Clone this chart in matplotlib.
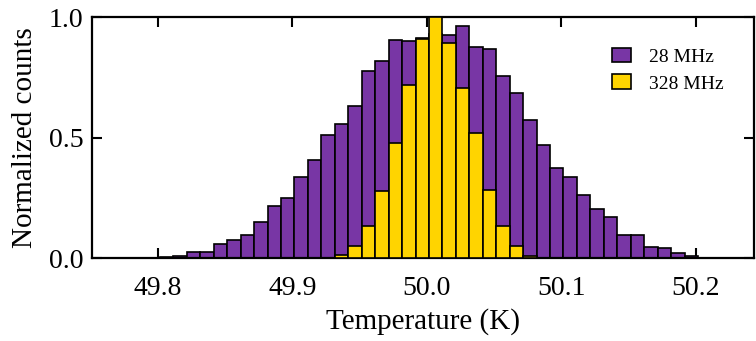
import matplotlib
matplotlib.use("Agg")
import matplotlib.pyplot as plt
import numpy as np

plt.rcParams['font.family'] = ['Liberation Serif', 'DejaVu Serif']

# histogram bins (left edges start at bin_left, width bin_width)
bin_left = 49.8015
bin_width = 0.01

counts_28 = [0.006, 0.008, 0.026, 0.026, 0.057, 0.075, 0.094, 0.149, 0.215, 0.248,
             0.336, 0.408, 0.511, 0.556, 0.629, 0.777, 0.816, 0.905, 0.902, 0.915,
             0.930, 0.925, 0.963, 0.877, 0.867, 0.756, 0.686, 0.574, 0.467, 0.372,
             0.337, 0.261, 0.203, 0.169, 0.094, 0.094, 0.045, 0.040, 0.022, 0.008]

counts_328 = [0, 0, 0, 0, 0, 0, 0, 0, 0, 0,
              0, 0, 0, 0.013, 0.048, 0.132, 0.280, 0.476, 0.718, 0.910,
              1.000, 0.893, 0.706, 0.517, 0.282, 0.132, 0.048, 0.008, 0, 0,
              0, 0, 0, 0, 0, 0, 0, 0, 0, 0]

labels = ['28 MHz', '328 MHz']
colors = ['#7836a5', '#ffd400']
x_ticks = [49.8, 49.9, 50.0, 50.1, 50.2]
y_ticks = [0.0, 0.5, 1.0]


def main():
    fig = plt.figure(figsize=(7.56, 3.41), dpi=100)
    ax = fig.add_axes([0.1217, 0.2434, 0.8763, 0.7066])

    left = bin_left + bin_width * np.arange(len(counts_28))
    a = np.array(counts_28)
    b = np.array(counts_328)
    ax.bar(left, a, width=bin_width, align='edge', color=colors[0],
           edgecolor='black', linewidth=1.2, label=labels[0], zorder=2)
    mask = b > 0
    ax.bar(left[mask], b[mask], width=bin_width, align='edge', color=colors[1],
           edgecolor='black', linewidth=1.2, label=labels[1], zorder=3)

    ax.set_xlim(49.751, 50.2435)
    ax.set_ylim(0, 1.0)
    ax.set_xticks(x_ticks)
    ax.set_xticklabels([f'{v:.1f}' for v in x_ticks])
    ax.set_yticks(y_ticks)
    ax.set_yticklabels([f'{v:.1f}' for v in y_ticks])
    ax.tick_params(direction='in', length=7, width=1.5, top=True, right=True,
                   labelsize=20)
    ax.tick_params(axis='x', pad=13)
    ax.tick_params(axis='y', pad=6)
    for s in ax.spines.values():
        s.set_linewidth(1.6)

    ax.set_xlabel('Temperature (K)', fontsize=21, labelpad=5)
    ax.set_ylabel('Normalized counts', fontsize=21, labelpad=8)

    ax.legend(loc='upper left', bbox_to_anchor=(0.764, 0.93), frameon=False,
              fontsize=14, handlelength=1.0, handleheight=0.8,
              handletextpad=0.9, labelspacing=0.45, borderpad=0.2)

    fig.savefig('out.png', dpi=100)


if __name__ == "__main__":
    main()
